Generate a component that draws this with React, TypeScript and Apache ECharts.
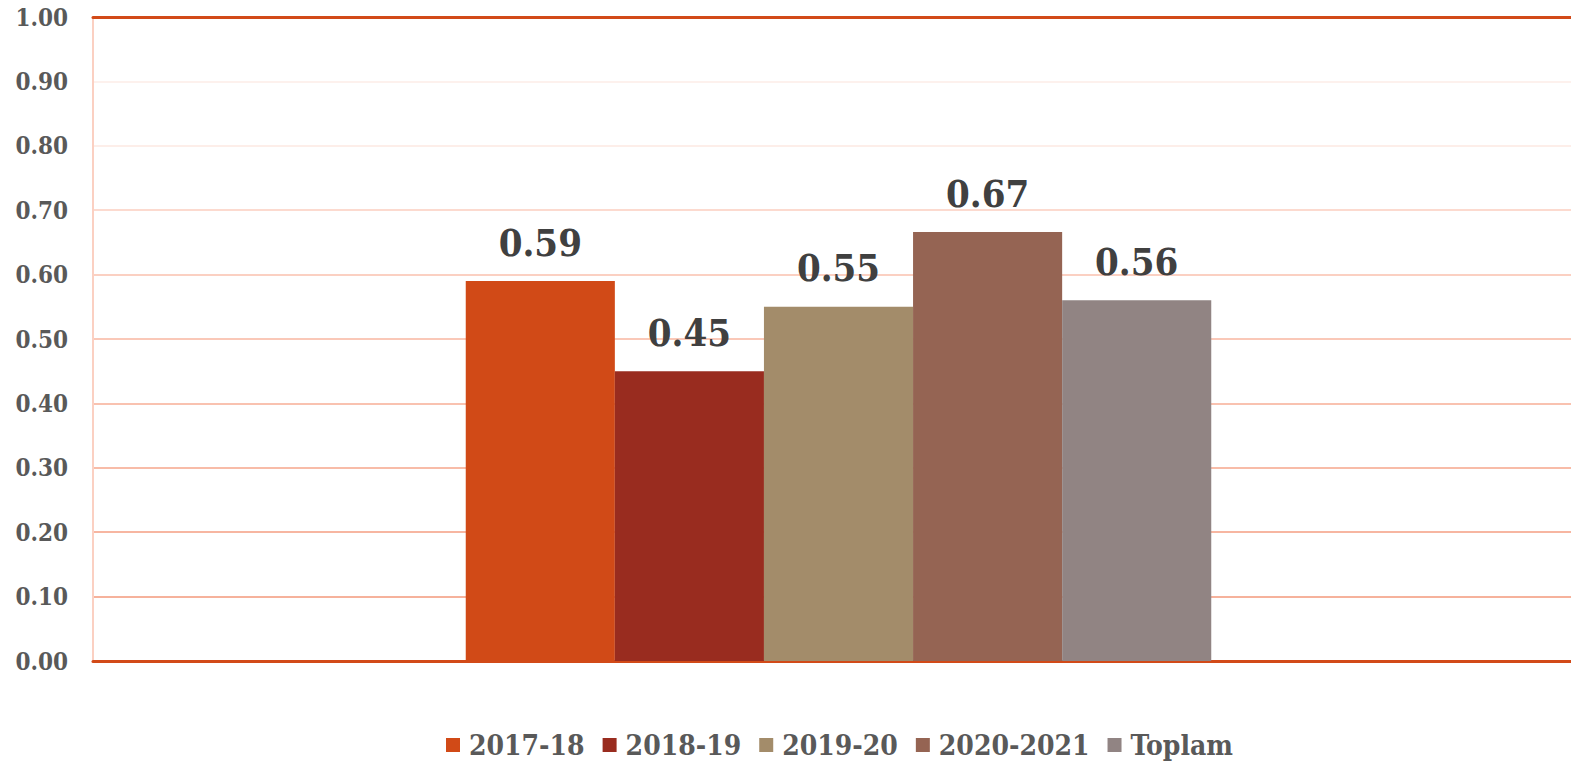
import React, { useEffect, useRef } from "react";
import * as echarts from "echarts";

const categories = [""];
const seriesNames = ["2017-18", "2018-19", "2019-20", "2020-2021", "Toplam"];
const seriesValues = [0.59, 0.45, 0.55, 0.666, 0.56];
const seriesColors = ["#d14a17", "#992c1f", "#a38c6a", "#956453", "#918483"];
const gridColors = [
  "#d24a18",
  "#f6b29c",
  "#f7b6a1",
  "#f8bca8",
  "#f9c2b0",
  "#fac8b8",
  "#fbd0c2",
  "#fcdacf",
  "#fdeee9",
  "#fdf1ed",
  "#d24a18",
];

const FONT = "'DejaVu Serif Condensed', 'DejaVu Serif', serif";

export default function App() {
  const ref = useRef<HTMLDivElement>(null);
  useEffect(() => {
    if (!ref.current) return;
    const chart = echarts.init(ref.current, null, { renderer: "svg" });
    chart.setOption({
      animation: false,
      backgroundColor: "#ffffff",
      grid: { left: 93, right: 95, top: 17, bottom: 104, containLabel: false },
      legend: {
        bottom: 1,
        left: "center",
        itemWidth: 14,
        itemHeight: 14,
        itemGap: 18,
        icon: "rect",
        textStyle: {
          fontFamily: FONT,
          fontWeight: "bold",
          fontSize: 28,
          color: "#595959",
          padding: [0, 0, 0, 4],
        },
        data: seriesNames,
      },
      xAxis: [
        {
          type: "category",
          data: categories,
          axisLine: { show: true, lineStyle: { color: "#d24a18", width: 3 } },
          axisTick: { show: false },
          axisLabel: { show: false },
        },
        {
          type: "category",
          data: categories,
          position: "top",
          axisLine: { show: true, lineStyle: { color: "#d24a18", width: 3 } },
          axisTick: { show: false },
          axisLabel: { show: false },
        },
      ],
      yAxis: {
        type: "value",
        min: 0,
        max: 1,
        interval: 0.1,
        axisLine: { show: true, lineStyle: { color: "#fbd0c2", width: 2 } },
        axisTick: { show: false },
        axisLabel: {
          formatter: (v: number) => v.toFixed(2),
          fontFamily: FONT,
          fontWeight: "bold",
          fontSize: 24,
          color: "#595959",
          margin: 25,
        },
        splitLine: { show: true, lineStyle: { color: gridColors, width: 2 } },
      },
      series: seriesNames.map((name, i) => ({
        name,
        type: "bar",
        data: [seriesValues[i]],
        barGap: "0%",
        barCategoryGap: "50%",
        itemStyle: { color: seriesColors[i] },
        label: {
          show: true,
          position: "top",
          distance: 20,
          formatter: (p: any) => Number(p.value).toFixed(2),
          fontFamily: FONT,
          fontWeight: "bold",
          fontSize: 38,
          color: "#404040",
        },
      })),
    });
    return () => chart.dispose();
  }, []);
  return (
    <div
      style={{
        position: "fixed",
        left: 0,
        top: 0,
        width: 1571,
        height: 765,
        overflow: "hidden",
        background: "#ffffff",
      }}
    >
      <div ref={ref} style={{ width: 1679, height: 765 }} />
    </div>
  );
}
